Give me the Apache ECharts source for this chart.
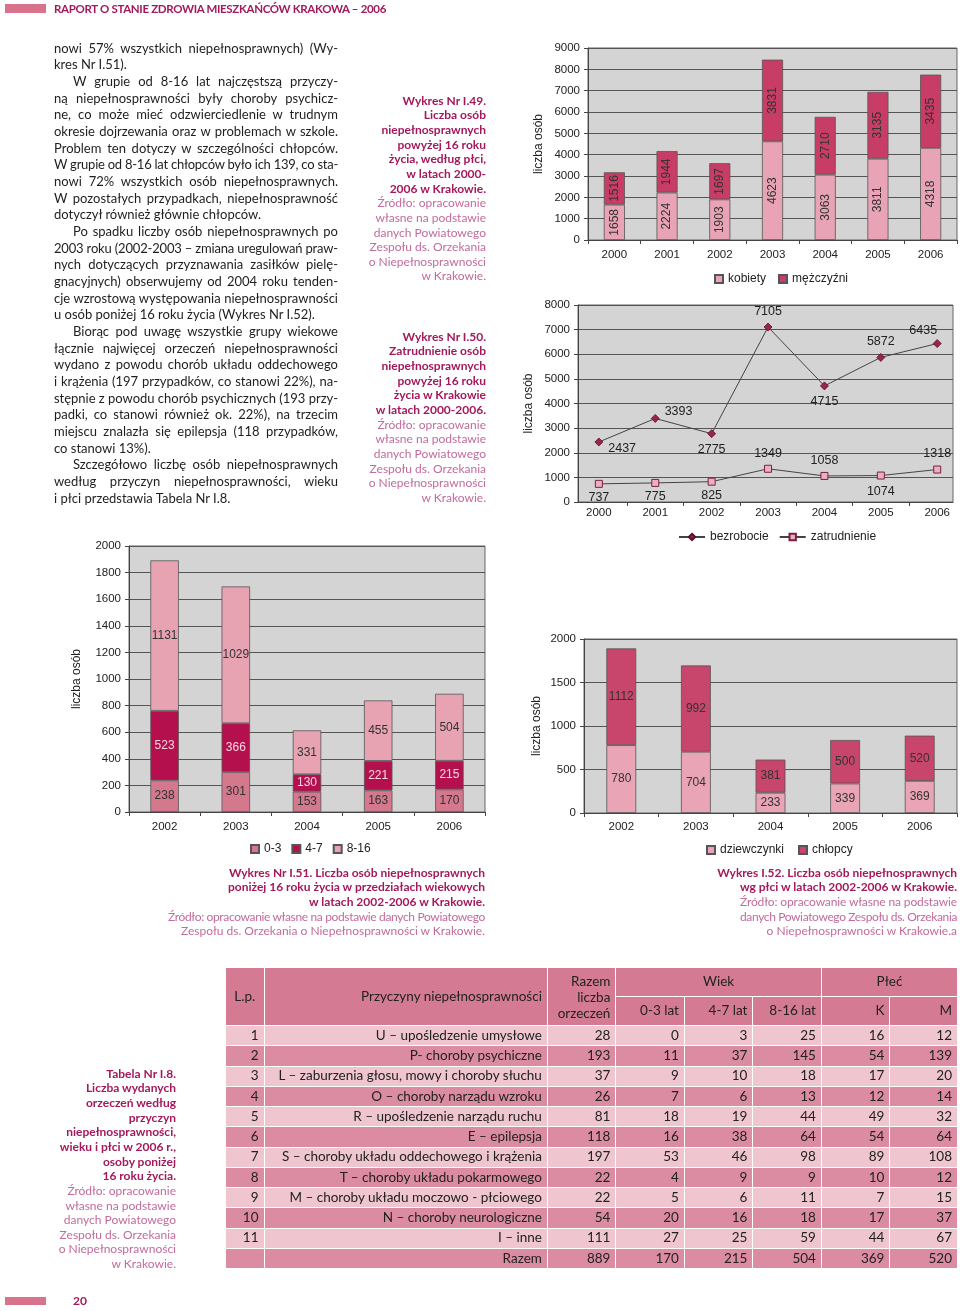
<!DOCTYPE html>
<html>
<head>
<meta charset="utf-8">
<script src="https://cdn.jsdelivr.net/npm/echarts@6/dist/echarts.min.js"></script>
<style>
html,body{margin:0;padding:0;background:#fff;}
#page{position:relative;width:960px;height:1311px;overflow:hidden;font-family:Lato,'Open Sans',sans-serif;}
#chart{position:absolute;left:0;top:0;width:960px;height:1311px;z-index:0;}
.txt{position:absolute;white-space:nowrap;z-index:2;}
.body{font-size:13px;color:#1e1e1e;line-height:16.67px;height:16.67px;}
.cap{font-size:12px;line-height:14.65px;height:14.65px;text-align:right;}
.capb{font-weight:bold;color:#a3195b;}
.capl{color:#c36b9c;}
#tbl{position:absolute;left:225px;top:967px;width:732px;border-collapse:collapse;table-layout:fixed;z-index:2;font-family:Lato,'Open Sans',sans-serif;font-size:13.5px;color:#222;}
#tbl td{border:1.5px solid #fff;padding:0 5px;line-height:1;white-space:nowrap;overflow:hidden;}
</style>
</head>
<body>
<div id="page">
  <div id="chart"></div>
</div>
<script>
// ---------------- DATA ----------------
const years49 = ['2000','2001','2002','2003','2004','2005','2006'];
const kobiety = [1658, 2224, 1903, 4623, 3063, 3811, 4318];
const mezczyzni = [1516, 1944, 1697, 3831, 2710, 3135, 3435];

const years50 = ['2000','2001','2002','2003','2004','2005','2006'];
const bezrobocie = [2437, 3393, 2775, 7105, 4715, 5872, 6435];
const zatrudnienie = [737, 775, 825, 1349, 1058, 1074, 1318];

const years51 = ['2002','2003','2004','2005','2006'];
const wiek0_3 = [238, 301, 153, 163, 170];
const wiek4_7 = [523, 366, 130, 221, 215];
const wiek8_16 = [1131, 1029, 331, 455, 504];

const years52 = ['2002','2003','2004','2005','2006'];
const dziewczynki = [780, 704, 233, 339, 369];
const chlopcy = [1112, 992, 381, 500, 520];

const yTicks49 = {min:0, max:9000, interval:1000};
const yTicks50 = {min:0, max:8000, interval:1000};
const yTicks51 = {min:0, max:2000, interval:200};
const yTicks52 = {min:0, max:2000, interval:500};

const tabLp = ['1','2','3','4','5','6','7','8','9','10','11',''];
const tabCause = ['U – upośledzenie umysłowe','P- choroby psychiczne','L – zaburzenia głosu, mowy i choroby słuchu','O – choroby narządu wzroku','R – upośledzenie narządu ruchu','E – epilepsja','S – choroby układu oddechowego i krążenia','T – choroby układu pokarmowego','M – choroby układu moczowo - płciowego','N – choroby neurologiczne','I – inne','Razem'];
const tabTotal = [28,193,37,26,81,118,197,22,22,54,111,889];
const tab0_3 = [0,11,9,7,18,16,53,4,5,20,27,170];
const tab4_7 = [3,37,10,6,19,38,46,9,6,16,25,215];
const tab8_16 = [25,145,18,13,44,64,98,9,11,18,59,504];
const tabK = [16,54,17,12,49,54,89,10,7,17,44,369];
const tabM = [12,139,20,14,32,64,108,12,15,37,67,520];

// ---------------- CHARTS ----------------
const chart = echarts.init(document.getElementById('chart'));
const AF = 'Liberation Sans, Arial, sans-serif';
const axisLbl = {fontFamily:AF, fontSize:11.5, color:'#222'};
const gridBase = {show:true, backgroundColor:'#d4d4d4', borderColor:'#666', borderWidth:1};
const lineCol = '#444';

function catX(gi, data, margin){
  return {type:'category', gridIndex:gi, data:data,
    axisLine:{lineStyle:{color:lineCol}}, axisTick:{show:true, length:4, lineStyle:{color:lineCol}},
    axisLabel:Object.assign({margin:margin}, axisLbl), splitLine:{show:false}};
}
function valY(gi, t, gap){
  return {type:'value', gridIndex:gi, min:t.min, max:t.max, interval:t.interval,
    name:'liczba osób', nameLocation:'middle', nameRotate:90, nameGap:gap,
    nameTextStyle:{fontFamily:AF, fontSize:12, color:'#222'},
    axisLine:{show:true, onZero:false, lineStyle:{color:lineCol}}, axisTick:{show:true, length:4, lineStyle:{color:lineCol}},
    axisLabel:Object.assign({margin:8, formatter:function(v){return String(v);}}, axisLbl),
    splitLine:{show:true, lineStyle:{color:'#555', width:1}}};
}
function barSeries(name, data, xi, color, lblColor, rotate){
  return {type:'bar', name:name, stack:'s'+xi, xAxisIndex:xi, yAxisIndex:xi, data:data, barWidth:'40%',
    itemStyle:{color:color, borderColor:'#555', borderWidth:0.8},
    label:{show:true, position:'inside', rotate:rotate||0, fontFamily:AF, fontSize:12, color:lblColor}};
}
const legText = {fontFamily:AF, fontSize:12, color:'#222'};

// label placements for the line chart (style only)
const place50b = [
  {position:'right', offset:[0,7]}, {position:'right', offset:[0,-7]}, {position:'bottom'},
  {position:'top'}, {position:'bottom'}, {position:'top'}, {position:'top', offset:[-14,3]}
];
const place50z = [
  {position:'bottom', offset:[0,-2]}, {position:'bottom', offset:[0,-2]}, {position:'bottom', offset:[0,-2]}, {position:'top'},
  {position:'top'}, {position:'bottom'}, {position:'top'}
];
const lineLbl = {show:true, fontFamily:AF, fontSize:12.5, color:'#222'};

const option = {
  animation:false,
  grid:[
    Object.assign({left:588, top:48, width:369, height:192}, gridBase),
    Object.assign({left:578, top:305, width:375, height:197}, gridBase),
    Object.assign({left:129, top:546, width:356, height:266}, gridBase),
    Object.assign({left:584, top:639, width:373, height:174}, gridBase)
  ],
  xAxis:[
    catX(0, years49, 9),
    {type:'value', gridIndex:1, min:-0.37, max:6.28,
      axisLine:{show:true, onZero:false, lineStyle:{color:lineCol}},
      axisTick:{show:true, length:4, lineStyle:{color:lineCol}, customValues:[0.5,1.5,2.5,3.5,4.5,5.5]},
      axisLabel:Object.assign({margin:5, customValues:[0,1,2,3,4,5,6], formatter:function(v){return years50[Math.round(v)];}}, axisLbl),
      splitLine:{show:false}},
    catX(2, years51, 9),
    catX(3, years52, 8)
  ],
  yAxis:[
    valY(0, yTicks49, 43),
    valY(1, yTicks50, 43),
    valY(2, yTicks51, 46),
    valY(3, yTicks52, 41)
  ],
  legend:[
    {data:['kobiety','mężczyźni'], left:709, top:268, itemWidth:8, itemHeight:8, itemGap:12, textStyle:legText, icon:'rect'},
    {data:['bezrobocie','zatrudnienie'], left:673, top:526, itemWidth:26, itemHeight:8, itemGap:10, textStyle:legText},
    {data:['0-3','4-7','8-16'], left:245, top:838, itemWidth:8, itemHeight:8, itemGap:10, textStyle:legText, icon:'rect'},
    {data:['dziewczynki','chłopcy'], left:701, top:839, itemWidth:8, itemHeight:8, itemGap:14, textStyle:legText, icon:'rect'}
  ],
  series:[
    barSeries('kobiety', kobiety, 0, '#e8a4b6', '#333', 90),
    barSeries('mężczyźni', mezczyzni, 0, '#c83d66', '#333', 90),
    {type:'line', name:'bezrobocie', xAxisIndex:1, yAxisIndex:1,
      data:bezrobocie.map(function(v,i){return {value:[i,v], label:place50b[i]};}),
      symbol:'diamond', symbolSize:8,
      itemStyle:{color:'#9b2449', borderColor:'#5a1028', borderWidth:0.8},
      lineStyle:{color:'#444', width:1}, label:lineLbl},
    {type:'line', name:'zatrudnienie', xAxisIndex:1, yAxisIndex:1,
      data:zatrudnienie.map(function(v,i){return {value:[i,v], label:place50z[i]};}),
      symbol:'rect', symbolSize:7,
      itemStyle:{color:'#eab0be', borderColor:'#7a2040', borderWidth:1},
      lineStyle:{color:'#444', width:1}, label:lineLbl},
    barSeries('0-3', wiek0_3, 2, '#d4788e', '#333'),
    barSeries('4-7', wiek4_7, 2, '#b5104e', '#f7d8e2'),
    barSeries('8-16', wiek8_16, 2, '#e8a3b3', '#333'),
    barSeries('dziewczynki', dziewczynki, 3, '#e9a5b6', '#333'),
    barSeries('chłopcy', chlopcy, 3, '#c8456c', '#333')
  ]
};
chart.setOption(option);

// ---------------- TEXT ----------------
const page = document.getElementById('page');
function addDiv(cls, text, css){
  const d = document.createElement('div');
  d.className = 'txt ' + cls;
  const s = document.createElement('span');
  s.textContent = text;
  d.appendChild(s);
  Object.assign(d.style, css);
  page.appendChild(d);
  return [d, s];
}
function fit(span, W, justify){
  const w = span.getBoundingClientRect().width;
  const txt = span.textContent;
  if (w > W) {
    span.style.letterSpacing = ((W - w) / txt.length) + 'px';
  } else if (justify) {
    const n = (txt.match(/ /g) || []).length;
    if (n > 0) span.style.wordSpacing = ((W - w) / n) + 'px';
  }
}

// header
(function(){
  const b = document.createElement('div');
  Object.assign(b.style, {position:'absolute', left:'5px', top:'4px', width:'41px', height:'9px', background:'#d9728b', zIndex:2});
  page.appendChild(b);
  const r = addDiv('', 'RAPORT O STANIE ZDROWIA MIESZKAŃCÓW KRAKOWA – 2006',
    {left:'54px', top:'2px', fontSize:'11.5px', fontWeight:'bold', color:'#a3195b', lineHeight:'14px'});
  fit(r[1], 332, true);
  const f = document.createElement('div');
  Object.assign(f.style, {position:'absolute', left:'5px', top:'1297px', width:'41px', height:'8px', background:'#d9728b', zIndex:2});
  page.appendChild(f);
  addDiv('', '20', {left:'73px', top:'1294px', fontSize:'12px', fontWeight:'bold', color:'#a3195b', lineHeight:'14px'});
})();

// body text
const bodyLines = [
 ['nowi 57% wszystkich niepełnosprawnych) (Wy-',0,0],
 ['kres Nr I.51).',0,1],
 ['W grupie od 8-16 lat najczęstszą przyczy-',1,0],
 ['ną niepełnosprawności były choroby psychicz-',0,0],
 ['ne, co może mieć odzwierciedlenie w trudnym',0,0],
 ['okresie dojrzewania oraz w problemach w szkole.',0,0],
 ['Problem ten dotyczy w szczególności chłopców.',0,0],
 ['W grupie od 8-16 lat chłopców było ich 139, co sta-',0,0],
 ['nowi 72% wszystkich osób niepełnosprawnych.',0,0],
 ['W pozostałych przypadkach, niepełnosprawność',0,0],
 ['dotyczył również głównie chłopców.',0,1],
 ['Po spadku liczby osób niepełnosprawnych po',1,0],
 ['2003 roku (2002-2003 – zmiana uregulowań praw-',0,0],
 ['nych dotyczących przyznawania zasiłków pielę-',0,0],
 ['gnacyjnych) obserwujemy od 2004 roku tenden-',0,0],
 ['cje wzrostową występowania niepełnosprawności',0,0],
 ['u osób poniżej 16 roku życia (Wykres Nr I.52).',0,1],
 ['Biorąc pod uwagę wszystkie grupy wiekowe',1,0],
 ['łącznie najwięcej orzeczeń niepełnosprawności',0,0],
 ['wydano z powodu chorób układu oddechowego',0,0],
 ['i krążenia (197 przypadków, co stanowi 22%), na-',0,0],
 ['stępnie z powodu chorób psychicznych (193 przy-',0,0],
 ['padki, co stanowi również ok. 22%), na trzecim',0,0],
 ['miejscu znalazła się epilepsja (118 przypadków,',0,0],
 ['co stanowi 13%).',0,1],
 ['Szczegółowo liczbę osób niepełnosprawnych',1,0],
 ['według przyczyn niepełnosprawności, wieku',0,0],
 ['i płci przedstawia Tabela Nr I.8.',0,1]
];
bodyLines.forEach(function(l, i){
  const ind = l[1] ? 19 : 0;
  const W = 284 - ind;
  const r = addDiv('body', l[0], {left:(54+ind)+'px', top:(39.7 + i*16.67)+'px', width:W+'px'});
  fit(r[1], W, !l[2]);
});

// captions
function caption(rightX, firstCenter, bold, light, maxB, maxL){
  const lh = 14.65;
  bold.concat(light).forEach(function(t, i){
    const isB = i < bold.length;
    const r = addDiv('cap ' + (isB ? 'capb' : 'capl'), t,
      {left:(rightX-400)+'px', width:'400px', top:(firstCenter - lh/2 + i*lh)+'px'});
    const mx = isB ? maxB : maxL;
    if (mx) fit(r[1], mx, false);
  });
}
const src6 = ['Źródło: opracowanie','własne na podstawie','danych Powiatowego','Zespołu ds. Orzekania','o Niepełnosprawności','w Krakowie.'];
caption(486, 101, ['Wykres Nr I.49.','Liczba osób','niepełnosprawnych','powyżej 16 roku','życia, według płci,','w latach 2000-','2006 w Krakowie.'], src6);
caption(486, 337, ['Wykres Nr I.50.','Zatrudnienie osób','niepełnosprawnych','powyżej 16 roku','życia w Krakowie','w latach 2000-2006.'], src6);
caption(485, 873, ['Wykres Nr I.51. Liczba osób niepełnosprawnych','poniżej 16 roku życia w przedziałach wiekowych','w latach 2002-2006 w Krakowie.'],
  ['Źródło: opracowanie własne na podstawie danych Powiatowego','Zespołu ds. Orzekania o Niepełnosprawności w Krakowie.'], 257, 317);
caption(957, 873, ['Wykres I.52. Liczba osób niepełnosprawnych','wg płci w latach 2002-2006 w Krakowie.'],
  ['Źródło: opracowanie własne na podstawie','danych Powiatowego Zespołu ds. Orzekania','o Niepełnosprawności w Krakowie.a'], 240, 217);
caption(176, 1074, ['Tabela Nr I.8.','Liczba wydanych','orzeczeń według','przyczyn','niepełnosprawności,','wieku i płci w 2006 r.,','osoby poniżej','16 roku życia.'], src6);

// table
(function(){
  const t = document.createElement('table');
  t.id = 'tbl';
  const widths = [38.5, 283.4, 68.5, 68.5, 68.5, 68.5, 68.5, 67.6];
  const cg = document.createElement('colgroup');
  widths.forEach(function(w){ const c = document.createElement('col'); c.style.width = w + 'px'; cg.appendChild(c); });
  t.appendChild(cg);
  const hdr = '#d47b93', dark = '#dc8ca2', light = '#efc5cf';
  function cell(tr, html, align, bg, extra){
    const td = document.createElement('td');
    td.innerHTML = html; td.style.textAlign = align; td.style.background = bg;
    if (extra) Object.assign(td, extra);
    tr.appendChild(td); return td;
  }
  const h1 = document.createElement('tr'); h1.style.height = '29px';
  cell(h1, 'L.p.', 'center', hdr, {rowSpan:2});
  cell(h1, 'Przyczyny niepełnosprawności', 'right', hdr, {rowSpan:2});
  const rz = cell(h1, 'Razem<br>liczba<br>orzeczeń', 'right', hdr, {rowSpan:2}); rz.style.lineHeight = '16px';
  cell(h1, 'Wiek', 'center', hdr, {colSpan:3});
  cell(h1, 'Płeć', 'center', hdr, {colSpan:2});
  t.appendChild(h1);
  const h2 = document.createElement('tr'); h2.style.height = '29px';
  ['0-3 lat','4-7 lat','8-16 lat','K','M'].forEach(function(s){ cell(h2, s, 'right', hdr); });
  t.appendChild(h2);
  tabCause.forEach(function(c, i){
    const tr = document.createElement('tr'); tr.style.height = '20.25px';
    const bg = (i % 2 === 0) ? light : dark;
    cell(tr, tabLp[i], 'right', bg);
    cell(tr, c, 'right', bg);
    [tabTotal, tab0_3, tab4_7, tab8_16, tabK, tabM].forEach(function(arr){ cell(tr, String(arr[i]), 'right', bg); });
    t.appendChild(tr);
  });
  page.appendChild(t);
})();
</script>
</body>
</html>
